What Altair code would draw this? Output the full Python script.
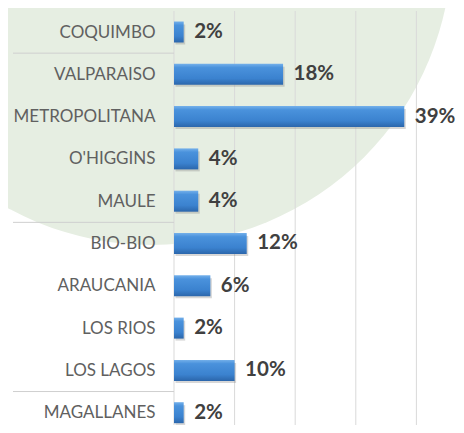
import json
import altair as alt
import pandas as pd

regions = ["COQUIMBO", "VALPARAISO", "METROPOLITANA", "O'HIGGINS", "MAULE",
           "BIO-BIO", "ARAUCANIA", "LOS RIOS", "LOS LAGOS", "MAGALLANES"]
bar_values = [1.6, 18, 38, 4, 4, 12, 6, 1.6, 10, 1.6]
pct_labels = ["2%", "18%", "39%", "4%", "4%", "12%", "6%", "2%", "10%", "2%"]
grid_values = [0, 10, 20, 30, 40]
group_ends = ["COQUIMBO", "MAULE", "LOS LAGOS"]

df = pd.DataFrame({"region": regions, "idx": list(range(len(regions))),
                   "value": bar_values, "label": pct_labels})
grid_df = pd.DataFrame({"g": grid_values})
sep_df = pd.DataFrame({"s": [regions.index(r) + 0.5 for r in group_ends]})
bg_df = pd.DataFrame({"k": [0]})

W, H = 282, 414
x_scale = alt.Scale(domain=[0, W / 6.06], nice=False, zero=True, padding=0)
y_scale = alt.Scale(domain=[-0.4965, 9.291], nice=False, zero=False,
                    reverse=True, padding=0)

y_axis = alt.Axis(values=list(range(len(regions))),
                  labelExpr=json.dumps(regions) + "[datum.value]",
                  title=None, ticks=False, domain=False, grid=False,
                  labelFont="Lato", labelFontSize=17, labelColor="#606060",
                  labelPadding=19, labelOverlap=False, labelFlush=False,
                  labelBound=False, zindex=1)

bar_gradient = alt.Gradient(
    gradient="linear", x1=0, x2=0, y1=0, y2=1,
    stops=[alt.GradientStop(offset=0, color="#74b0ea"),
           alt.GradientStop(offset=0.18, color="#4a92dc"),
           alt.GradientStop(offset=0.7, color="#3b82cf"),
           alt.GradientStop(offset=1, color="#2b66ab")])

background = alt.Chart(bg_df).mark_point(
    shape="circle", filled=True, opacity=1, color="#e6eee2", strokeWidth=0
).encode(x=alt.value(-22), y=alt.value(-66), size=alt.value(360000))

grid = alt.Chart(grid_df).mark_rule(color="#d9d9d9", strokeWidth=1).encode(
    x=alt.X("g:Q", scale=x_scale, axis=None))

seps = alt.Chart(sep_df).mark_rule(color="#cfcfcf", strokeWidth=1).encode(
    y=alt.Y("s:Q", scale=y_scale, axis=y_axis),
    x=alt.value(-161), x2=alt.value(0))

shadow = alt.Chart(df).mark_bar(
    orient="horizontal", color="#6f6f6f", opacity=0.28, xOffset=1.5, yOffset=2.5
).encode(
    x=alt.X("value:Q", scale=x_scale, axis=None),
    y=alt.Y("idx:Q", scale=y_scale, axis=y_axis),
    size=alt.value(20))

bars = alt.Chart(df).mark_bar(orient="horizontal", color=bar_gradient).encode(
    x=alt.X("value:Q", scale=x_scale, axis=None),
    y=alt.Y("idx:Q", scale=y_scale, axis=y_axis),
    size=alt.value(21))

text = alt.Chart(df).mark_text(
    align="left", baseline="middle", dx=10.5, font="Lato", fontSize=20.5,
    fontWeight="bold", color="#404040"
).encode(
    x=alt.X("value:Q", scale=x_scale, axis=None),
    y=alt.Y("idx:Q", scale=y_scale, axis=y_axis),
    text="label:N")

chart = alt.layer(background, grid, seps, shadow, bars, text).properties(
    width=W, height=H,
    autosize=alt.AutoSizeParams(type="none"),
    padding={"left": 166, "top": 3, "right": 0, "bottom": 0},
    background="white",
).configure_view(stroke=None)

chart.save("out.html", embed_options={"renderer": "svg", "actions": False})
